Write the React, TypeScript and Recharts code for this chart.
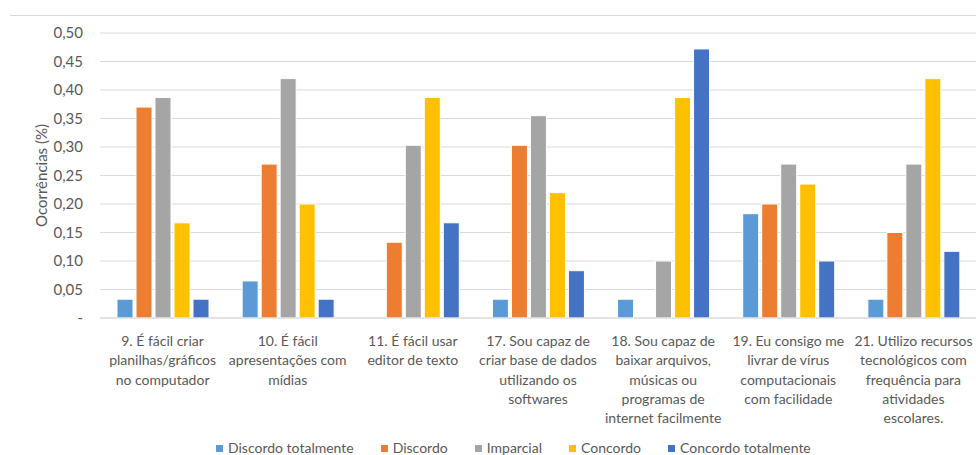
import { BarChart, Bar, XAxis, YAxis, CartesianGrid, Legend } from 'recharts';

const categories = [
  '9. É fácil criar\nplanilhas/gráficos\nno computador',
  '10. É fácil\napresentações com\nmídias',
  '11. É fácil usar\neditor de texto',
  '17. Sou capaz de\ncriar base de dados\nutilizando os\nsoftwares',
  '18. Sou capaz de\nbaixar arquivos,\nmúsicas ou\nprogramas de\ninternet facilmente',
  '19. Eu consigo me\nlivrar de vírus\ncomputacionais\ncom facilidade',
  '21. Utilizo recursos\ntecnológicos com\nfrequência para\natividades\nescolares.',
];

const discordoTotalmente = [0.033, 0.065, 0, 0.033, 0.033, 0.183, 0.033];
const discordo = [0.37, 0.27, 0.133, 0.303, 0, 0.2, 0.15];
const imparcial = [0.387, 0.42, 0.303, 0.355, 0.1, 0.27, 0.27];
const concordo = [0.167, 0.2, 0.387, 0.22, 0.387, 0.235, 0.42];
const concordoTotalmente = [0.033, 0.033, 0.167, 0.083, 0.472, 0.1, 0.117];

const yTicks = [0, 0.05, 0.1, 0.15, 0.2, 0.25, 0.3, 0.35, 0.4, 0.45, 0.5];

const data = categories.map((name, i) => ({
  name,
  dt: discordoTotalmente[i],
  d: discordo[i],
  im: imparcial[i],
  c: concordo[i],
  ct: concordoTotalmente[i],
}));

const series = [
  { key: 'dt', label: 'Discordo totalmente', color: '#5B9BD5' },
  { key: 'd', label: 'Discordo', color: '#ED7D31' },
  { key: 'im', label: 'Imparcial', color: '#A5A5A5' },
  { key: 'c', label: 'Concordo', color: '#FFC000' },
  { key: 'ct', label: 'Concordo totalmente', color: '#4472C4' },
];

const FONT = 'Lato, sans-serif';
const TEXT = '#595959';

const CategoryTick = ({ x, y, payload }: any) => {
  const lines = String(payload.value).split('\n');
  return (
    <text x={x} y={y + 20} textAnchor="middle" fill={TEXT} fontSize={14} fontFamily={FONT}>
      {lines.map((l, i) => (
        <tspan key={i} x={x} dy={i === 0 ? 0 : 19.3}>
          {l}
        </tspan>
      ))}
    </text>
  );
};

// keep the legend in series order (recharts sorts it by name otherwise)
const LegendContent = () => (
  <div
    style={{
      display: 'flex',
      height: 14,
      lineHeight: '14px',
      fontFamily: FONT,
      fontSize: 14,
      color: TEXT,
      paddingLeft: 216,
      position: 'relative',
      top: 0,
    }}
  >
    {series.map((s) => (
      <div key={s.key} style={{ display: 'flex', alignItems: 'center', marginRight: 27 }}>
        <span style={{ width: 7, height: 7, background: s.color, marginRight: 5, display: 'inline-block' }} />
        <span>{s.label}</span>
      </div>
    ))}
  </div>
);

export default function App() {
  return (
    <div style={{ position: 'absolute', left: 0, top: 0, width: 976, height: 455, background: '#fff', overflow: 'hidden' }}>
      <div style={{ position: 'absolute', left: 10, right: 0, top: 15, borderTop: '1px solid #D9D9D9' }} />
      <BarChart
        width={976}
        height={455}
        data={data}
        margin={{ top: 33, right: 0, bottom: 0, left: 0 }}
        barSize={16}
        barGap={3}
      >
        <CartesianGrid vertical={false} stroke="#D9D9D9" />
        <XAxis
          dataKey="name"
          interval={0}
          height={123}
          tickLine={false}
          axisLine={{ stroke: '#D9D9D9' }}
          tick={<CategoryTick />}
        />
        <YAxis
          width={100}
          domain={[0, 0.5]}
          ticks={yTicks}
          axisLine={false}
          tickLine={false}
          tickMargin={11}
          tick={{ fill: TEXT, fontSize: 15, fontFamily: FONT }}
          tickFormatter={(v: number) => (v === 0 ? '-' : v.toFixed(2).replace('.', ','))}
          label={{
            value: 'Ocorrências (%)',
            angle: -90,
            position: 'insideLeft',
            offset: 42,
            style: { textAnchor: 'middle', fill: TEXT, fontSize: 15, fontFamily: FONT },
          }}
        />
        <Legend verticalAlign="bottom" content={<LegendContent />} />
        {series.map((s) => (
          <Bar
            key={s.key}
            dataKey={s.key}
            name={s.label}
            fill={s.color}
            stroke="#fff"
            strokeWidth={1}
            isAnimationActive={false}
          />
        ))}
      </BarChart>
    </div>
  );
}
